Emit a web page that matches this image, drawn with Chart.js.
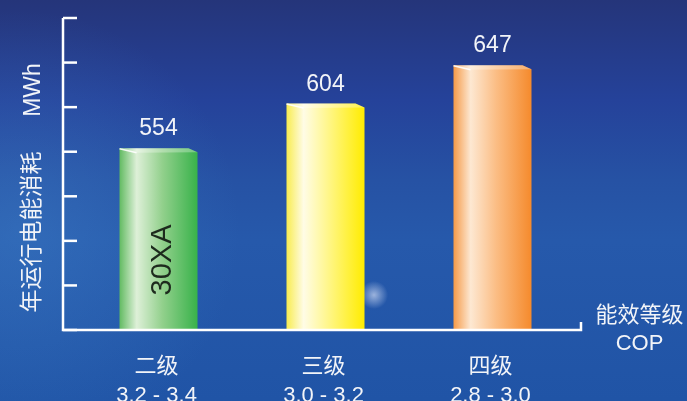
<!DOCTYPE html>
<html>
<head>
<meta charset="utf-8">
<script src="https://cdn.jsdelivr.net/npm/chart.js@4.4.1/dist/chart.umd.min.js"></script>
<style>
  html, body { margin: 0; padding: 0; background: #24408f; }
  #wrap { width: 687px; height: 401px; }
</style>
</head>
<body>
<div id="wrap"><canvas id="chart" width="687" height="401"></canvas></div>
<script>
const categories = ['二级', '三级', '四级'];
const copRanges = ['3.2 - 3.4', '3.0 - 3.2', '2.8 - 3.0'];
const energyUse = [554, 604, 647];
const yTicks = [350, 400, 450, 500, 550, 600, 650, 700];
const yTitle = ['年运行电能消耗', 'MWh'];
const xTitle = ['能效等级', 'COP'];
const barTag = '30XA';

// edge, highlight, middle, right edge
const barColors = [
  ['#62bb62', '#def0d8', '#92d08c', '#38b24a'],
  ['#f8ec50', '#fffce6', '#fff685', '#ffec00'],
  ['#f59a48', '#fde8d2', '#fbbd84', '#f58a2c']
];

const LATIN = '"Liberation Sans", "Noto Sans CJK SC", sans-serif';
const textColor = '#f2f4f8';

// background gradient + small glare
const backdrop = {
  id: 'backdrop',
  beforeDraw(chart) {
    const { ctx, width, height } = chart;
    ctx.save();
    const g = ctx.createLinearGradient(0, 0, 0, height);
    g.addColorStop(0, '#25357a');
    g.addColorStop(0.25, '#25429a');
    g.addColorStop(0.45, '#2652a4');
    g.addColorStop(0.6, '#2659ab');
    g.addColorStop(1, '#2054a6');
    ctx.fillStyle = g;
    ctx.fillRect(0, 0, width, height);
    const r = ctx.createRadialGradient(20, 230, 0, 20, 230, 220);
    r.addColorStop(0, 'rgba(70,140,210,0.35)');
    r.addColorStop(1, 'rgba(70,140,210,0)');
    ctx.fillStyle = r;
    ctx.fillRect(0, 0, width, height);
    const s = ctx.createRadialGradient(374, 295, 0, 374, 295, 14);
    s.addColorStop(0, 'rgba(235,240,255,0.6)');
    s.addColorStop(1, 'rgba(235,240,255,0)');
    ctx.fillStyle = s;
    ctx.fillRect(355, 276, 40, 40);
    ctx.restore();
  }
};

// bevelled gradient bars
const bevelBars = {
  id: 'bevelBars',
  afterDatasetsDraw(chart) {
    const { ctx } = chart;
    const meta = chart.getDatasetMeta(0);
    meta.data.forEach((bar, i) => {
      const { x, y, base, width } = bar.getProps(['x', 'y', 'base', 'width'], true);
      const x0 = x - width / 2, x1 = x + width / 2;
      const c = barColors[i];
      ctx.save();
      const g = ctx.createLinearGradient(x0, 0, x1, 0);
      g.addColorStop(0, c[0]);
      g.addColorStop(0.22, c[1]);
      g.addColorStop(0.55, c[2]);
      g.addColorStop(1, c[3]);
      ctx.beginPath();
      ctx.moveTo(x0, y);
      ctx.lineTo(x1 - 9, y);
      ctx.lineTo(x1, y + 4);
      ctx.lineTo(x1, base);
      ctx.lineTo(x0, base);
      ctx.closePath();
      ctx.fillStyle = g;
      ctx.fill();
      // top face sheen
      ctx.beginPath();
      ctx.moveTo(x0, y);
      ctx.lineTo(x1 - 9, y);
      ctx.lineTo(x1, y + 4);
      ctx.lineTo(x0 + 17, y + 4.5);
      ctx.closePath();
      ctx.fillStyle = 'rgba(255,255,255,0.3)';
      ctx.fill();
      ctx.beginPath();
      ctx.moveTo(x0, y + 0.5);
      ctx.lineTo(x0 + 17, y + 4.5);
      ctx.strokeStyle = 'rgba(255,255,255,0.9)';
      ctx.lineWidth = 1.5;
      ctx.stroke();

      // value label
      ctx.fillStyle = textColor;
      ctx.font = '23px ' + LATIN;
      ctx.textAlign = 'center';
      ctx.textBaseline = 'alphabetic';
      ctx.fillText(String(energyUse[i]), x, y - 13);

      if (i === 0) {
        ctx.translate(x + 4, base - 70);
        ctx.rotate(-Math.PI / 2);
        ctx.font = '29px ' + LATIN;
        ctx.fillStyle = '#1d2a1d';
        ctx.textBaseline = 'middle';
        ctx.fillText(barTag, 0, 0);
      }
      ctx.restore();
    });
  }
};

// white axes, inner ticks and all axis text
const axesDecor = {
  id: 'axesDecor',
  afterDraw(chart) {
    const { ctx, chartArea } = chart;
    const yScale = chart.scales.y;
    const xScale = chart.scales.x;
    const left = chartArea.left, right = chartArea.right;
    const top = yScale.getPixelForValue(yTicks[yTicks.length - 1]);
    const bottom = yScale.getPixelForValue(yTicks[0]);
    ctx.save();
    ctx.strokeStyle = '#ffffff';
    ctx.lineWidth = 2.5;
    ctx.beginPath();
    ctx.moveTo(left, top);
    ctx.lineTo(left, bottom);
    ctx.lineTo(right, bottom);
    ctx.lineTo(right, bottom - 8);
    ctx.stroke();
    yTicks.forEach(v => {
      const py = yScale.getPixelForValue(v);
      ctx.beginPath();
      ctx.moveTo(left, py);
      ctx.lineTo(left + 14, py);
      ctx.stroke();
    });

    ctx.fillStyle = textColor;
    ctx.textAlign = 'center';
    categories.forEach((cat, i) => {
      const px = xScale.getPixelForValue(i);
      ctx.font = '22px ' + LATIN;
      ctx.textBaseline = 'middle';
      ctx.fillText(cat, px - 2, 367);
      ctx.textBaseline = 'alphabetic';
      ctx.fillText(copRanges[i], px - 2, 402);
    });

    // x title at the right end
    ctx.font = '22px ' + LATIN;
    ctx.textBaseline = 'middle';
    ctx.fillText(xTitle[0], 639.5, 316);
    ctx.fillText(xTitle[1], 639.5, 343.5);

    // y title, rotated
    ctx.font = '23px ' + LATIN;
    ctx.save();
    ctx.translate(32.5, 232);
    ctx.rotate(-Math.PI / 2);
    ctx.fillText(yTitle[0], 0, 0);
    ctx.restore();
    ctx.save();
    ctx.translate(33.5, 90);
    ctx.rotate(-Math.PI / 2);
    ctx.fillText(yTitle[1], 0, 0);
    ctx.restore();
    ctx.restore();
  }
};

new Chart(document.getElementById('chart'), {
  type: 'bar',
  data: {
    datasets: [{
      data: energyUse.map((v, i) => ({ x: i, y: v })),
      base: yTicks[0],
      backgroundColor: 'rgba(0,0,0,0)',
      borderWidth: 0,
      barThickness: 78
    }]
  },
  options: {
    responsive: false,
    animation: false,
    devicePixelRatio: 1,
    layout: { padding: { left: 63, right: 106, top: 18, bottom: 71 } },
    plugins: { legend: { display: false }, tooltip: { enabled: false } },
    scales: {
      x: { type: 'linear', display: false, offset: false, min: -0.572, max: 2.53 },
      y: { display: false, min: 350, max: 700, ticks: { stepSize: 50 } }
    }
  },
  plugins: [backdrop, bevelBars, axesDecor]
});
</script>
</body>
</html>
